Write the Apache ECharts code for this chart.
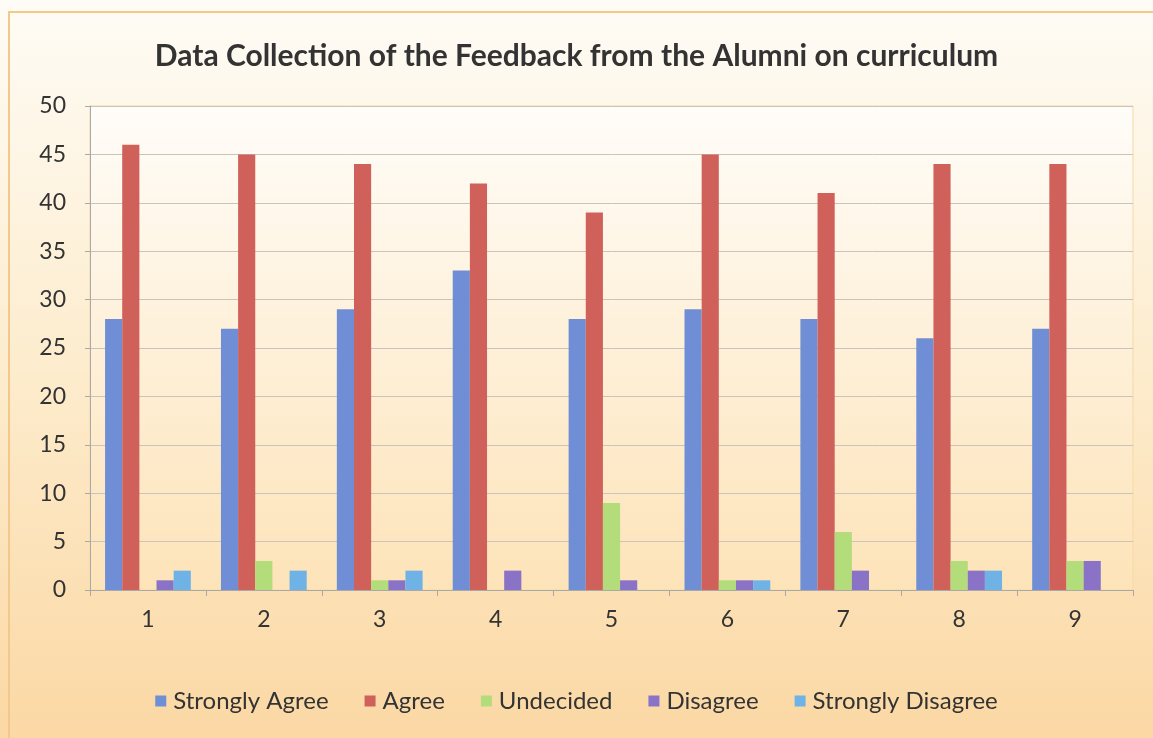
<!DOCTYPE html>
<html><head><meta charset="utf-8">
<script src="https://cdn.jsdelivr.net/npm/echarts@6/dist/echarts.min.js"></script>
<style>html,body{margin:0;padding:0;background:#fff;}#c{width:1153px;height:738px;}</style>
</head><body><div id="c"></div>
<script>
var categories = ['1','2','3','4','5','6','7','8','9'];
var stronglyAgree = [28, 27, 29, 33, 28, 29, 28, 26, 27];
var agree = [46, 45, 44, 42, 39, 45, 41, 44, 44];
var undecided = [0, 3, 1, 0, 9, 1, 6, 3, 3];
var disagree = [1, 0, 1, 2, 1, 1, 2, 2, 3];
var stronglyDisagree = [2, 2, 2, 0, 0, 1, 0, 2, 0];
var seriesNames = ['Strongly Agree', 'Agree', 'Undecided', 'Disagree', 'Strongly Disagree'];
var seriesData = [stronglyAgree, agree, undecided, disagree, stronglyDisagree];
var colors = ['#6f8ed6', '#cf615a', '#b3dc7a', '#8a72c6', '#6fb3e6'];

var chart = echarts.init(document.getElementById('c'));
var font = 'Lato, "Open Sans", sans-serif';
chart.setOption({
  animation: false,
  backgroundColor: {type:'linear', x:0, y:0, x2:0, y2:1, colorStops:[{offset:0,color:'#fefcf6'},{offset:0.5,color:'#fdeccd'},{offset:1,color:'#fbd8a4'}]},
  graphic: [{type:'rect', shape:{x:9, y:12, width:1160, height:740}, style:{fill:'none', stroke:'#f3c88a', lineWidth:2}, z:-1}],
  title: {text:'Data Collection of the Feedback from the Alumni on curriculum', left:'center', top:36,
    textStyle:{fontFamily:font, fontSize:30, fontWeight:'bold', color:'#333'}},
  legend: {bottom:20, left:'center', itemWidth:11, itemHeight:11, itemGap:36, icon:'rect',
    textStyle:{fontFamily:font, fontSize:24, color:'#333', padding:[0,0,0,2]}, data: seriesNames},
  grid: {left:90, right:20, top:106, bottom:148, show:true, borderColor:'#f5d9a8', borderWidth:1,
    backgroundColor:{type:'linear', x:0, y:0, x2:0, y2:1, colorStops:[{offset:0,color:'#fffdf9'},{offset:1,color:'#fde3b8'}]}},
  xAxis: {type:'category', data:categories, axisLine:{lineStyle:{color:'#a9a9a9'}},
    axisTick:{show:true, length:6, lineStyle:{color:'#a9a9a9'}},
    axisLabel:{fontFamily:font, fontSize:23, color:'#333', margin:18}},
  yAxis: {type:'value', min:0, max:50, interval:5,
    axisLine:{show:true, lineStyle:{color:'#a9a9a9'}},
    axisTick:{show:true, length:5, lineStyle:{color:'#a9a9a9'}},
    splitLine:{lineStyle:{color:'#c9c3bc'}},
    axisLabel:{fontFamily:font, fontSize:23, color:'#333', margin:24}},
  series: seriesData.map(function(d,i){ return {name:seriesNames[i], type:'bar', data:d, barGap:'0%', barCategoryGap:'26%', itemStyle:{color:colors[i]}}; })
});
</script></body></html>
